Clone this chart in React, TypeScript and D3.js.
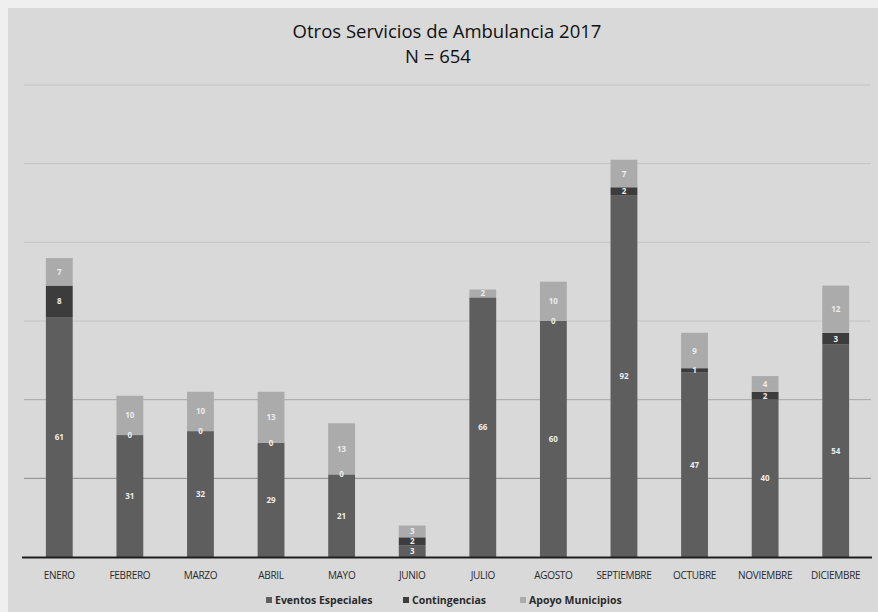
import React from "react";
import * as d3 from "d3";

const months = ["ENERO", "FEBRERO", "MARZO", "ABRIL", "MAYO", "JUNIO", "JULIO", "AGOSTO", "SEPTIEMBRE", "OCTUBRE", "NOVIEMBRE", "DICIEMBRE"];
const eventosEspeciales = [61, 31, 32, 29, 21, 3, 66, 60, 92, 47, 40, 54];
const contingencias = [8, 0, 0, 0, 0, 2, 0, 0, 2, 1, 2, 3];
const apoyoMunicipios = [7, 10, 10, 13, 13, 3, 2, 10, 7, 9, 4, 12];
const seriesNames = ["Eventos Especiales", "Contingencias", "Apoyo Municipios"];
const seriesColors = ["#5e5e5e", "#3c3c3c", "#ababab"];
const gridValues = [20, 40, 60, 80, 100, 120];

const W = 878;
const H = 612;

export default function App() {
  const x = d3.scaleBand<string>().domain(months).range([24, 871]).paddingInner(0.62).paddingOuter(0.31);
  const y = d3.scaleLinear().domain([0, 120]).range([557, 85]);

  const table = months.map((m, i) => ({
    month: m,
    "Eventos Especiales": eventosEspeciales[i],
    Contingencias: contingencias[i],
    "Apoyo Municipios": apoyoMunicipios[i],
  }));
  const stacked = d3.stack<any>().keys(seriesNames)(table);

  const legendX = [266, 403, 520];

  const showLabel = (si: number, i: number) => {
    const v = stacked[si][i][1] - stacked[si][i][0];
    if (v !== 0) return true;
    // a zero label collides with a tiny neighbour segment
    const next = stacked[si + 1];
    if (next) {
      const nv = next[i][1] - next[i][0];
      if (nv > 0 && y(0) - y(nv) < 14) return false;
    }
    return true;
  };

  return (
    <svg width={W} height={H} style={{ position: "fixed", left: 0, top: 0 }} fontFamily="'Open Sans', 'Noto Sans', sans-serif">
      <rect x={0} y={0} width={W} height={H} fill="#efefef" />
      <rect x={8} y={8} width={W - 8} height={H - 8} fill="#d9d9d9" />
      {gridValues.map((g) => (
        <line key={g} x1={24} x2={871} y1={y(g)} y2={y(g)} stroke={g === 20 ? "#8a8a8a" : g === 40 ? "#a8a8a8" : "#c4c4c4"} strokeWidth={1} />
      ))}
      {stacked.map((s, si) => (
        <g key={s.key}>
          {s.map((d, i) => (
            <rect key={i} x={x(months[i])} y={y(d[1])} width={x.bandwidth()} height={Math.max(0, y(d[0]) - y(d[1]))} fill={seriesColors[si]} />
          ))}
        </g>
      ))}
      {stacked.map((s, si) => (
        <g key={"l" + s.key}>
          {s.map((d, i) =>
            showLabel(si, i) ? (
              <text key={i} x={(x(months[i]) as number) + x.bandwidth() / 2} y={(y(d[0]) + y(d[1])) / 2 + 3} textAnchor="middle" fontSize={8} fontWeight="bold" fill="#ececec">
                {d[1] - d[0]}
              </text>
            ) : null
          )}
        </g>
      ))}
      <line x1={22} x2={872} y1={557.5} y2={557.5} stroke="#1e1e1e" strokeWidth={2} />
      {months.map((m) => (
        <text key={m} x={(x(m) as number) + x.bandwidth() / 2} y={579} textAnchor="middle" fontSize={10} fill="#2a2a2a" letterSpacing={-0.3}>
          {m}
        </text>
      ))}
      <text x={447} y={38} textAnchor="middle" fontSize={18.5} fill="#111">Otros Servicios de Ambulancia 2017</text>
      <text x={438} y={63} textAnchor="middle" fontSize={18.5} fill="#111">N = 654</text>
      {seriesNames.map((n, i) => (
        <g key={n} transform={`translate(${legendX[i]},604)`}>
          <rect x={0} y={-7} width={6} height={6} fill={seriesColors[i]} />
          <text x={9} y={0} fontSize={10.5} fontWeight="bold" fill="#2a2a2a">{n}</text>
        </g>
      ))}
    </svg>
  );
}
